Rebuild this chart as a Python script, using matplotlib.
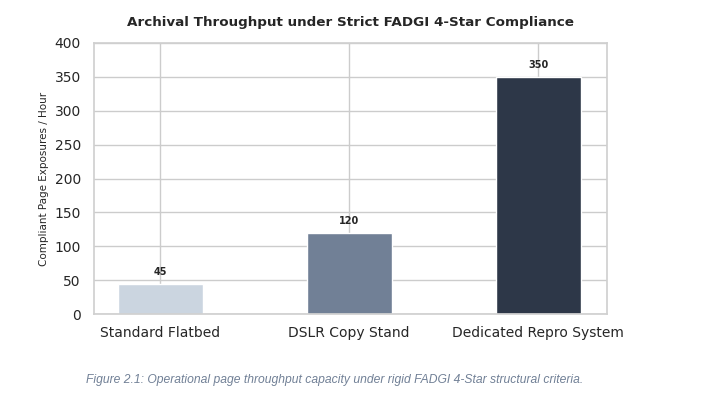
import matplotlib
matplotlib.use("Agg")
import matplotlib.pyplot as plt
import seaborn as sns

categories = ["Standard Flatbed", "DSLR Copy Stand", "Dedicated Repro System"]
values = [45, 120, 350]
colors = ["#cbd5e0", "#718096", "#2d3748"]
yticks = [0, 50, 100, 150, 200, 250, 300, 350, 400]

sns.set_theme(style="whitegrid")
plt.rcParams['font.family'] = ['DejaVu Sans']

fig = plt.figure(figsize=(7.04, 4.05), dpi=100)
ax = fig.add_axes([94/704, 1-314/405, (607-94)/704, (314-43)/405])

x = list(range(len(categories)))
bars = ax.bar(x, values, width=0.45, color=colors, zorder=2)
ax.set_xticks(x)
ax.set_xticklabels(categories, fontsize=10, color="#262626")
ax.set_xlim(-0.35, 2.365)
ax.set_yticks(yticks)
ax.set_ylim(0, 400)
ax.tick_params(axis='y', labelsize=10, labelcolor="#262626")
ax.tick_params(axis='x', pad=2.5)
ax.set_ylabel("Compliant Page Exposures / Hour", fontsize=7.5, color="#262626")
ax.set_title("Archival Throughput under Strict FADGI 4-Star Compliance",
             fontsize=9.7, fontweight="bold", color="#262626", pad=12)
for xi, v in zip(x, values):
    ax.annotate(str(v), (xi, v), xytext=(0, 5), textcoords="offset points",
                ha="center", va="bottom", fontsize=7, fontweight="bold", color="#262626")
for s in ax.spines.values():
    s.set_color("#d0d0d0")

fig.text(335/704, 1-380/405,
         "Figure 2.1: Operational page throughput capacity under rigid FADGI 4-Star structural criteria.",
         ha="center", va="center", fontsize=8.7, style="italic", color="#718096",
         family="Liberation Sans")

fig.savefig("out.png", dpi=100)
